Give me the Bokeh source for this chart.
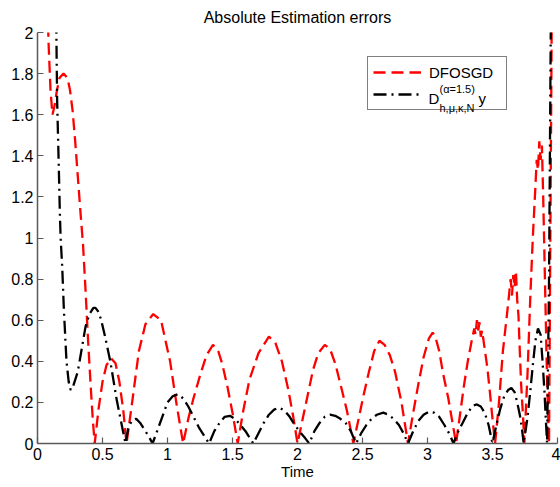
from bokeh.plotting import figure
from bokeh.models import Legend, LegendItem, Label, FixedTicker, Range1d
from bokeh.embed import file_html
from bokeh.resources import INLINE

# ---------------- data ----------------
t_dfosgd = [0.070, 0.085, 0.100, 0.115, 0.130, 0.150, 0.170, 0.200, 0.230, 0.250,
            0.270, 0.290, 0.310, 0.330, 0.350, 0.370, 0.390, 0.410, 0.425, 0.440,
            0.470, 0.500, 0.530, 0.565, 0.600, 0.630, 0.660, 0.685,
            0.730, 0.780, 0.830, 0.890, 0.950, 1.020, 1.070, 1.120,
            1.160, 1.200, 1.250, 1.300, 1.350, 1.390, 1.420, 1.460, 1.500, 1.540,
            1.580, 1.630, 1.700, 1.780, 1.830, 1.880, 1.930, 1.970, 2.000,
            2.040, 2.080, 2.120, 2.160, 2.210, 2.250, 2.290, 2.330, 2.380, 2.430,
            2.470, 2.510, 2.550, 2.590, 2.630, 2.670, 2.710, 2.750, 2.800, 2.850,
            2.890, 2.930, 2.970, 3.010, 3.040, 3.060, 3.090, 3.120, 3.160, 3.190, 3.220,
            3.250, 3.280, 3.310, 3.340, 3.360, 3.370, 3.380, 3.390, 3.400, 3.410, 3.420,
            3.440, 3.460, 3.480, 3.500, 3.520,
            3.550, 3.580, 3.610, 3.630, 3.640, 3.650, 3.660, 3.670, 3.680, 3.690, 3.700,
            3.710, 3.720, 3.735, 3.745,
            3.770, 3.790, 3.810, 3.830, 3.840, 3.850, 3.860, 3.870, 3.880, 3.890, 3.900,
            3.910, 3.920, 3.935,
            3.945, 3.955, 3.970]
e_dfosgd = [2.30, 1.95, 1.72, 1.60, 1.64, 1.72, 1.78, 1.80, 1.78, 1.72,
            1.62, 1.47, 1.30, 1.13, 0.97, 0.74, 0.49, 0.27, 0.12, 0.00,
            0.17, 0.30, 0.38, 0.415, 0.39, 0.30, 0.16, 0.00,
            0.21, 0.45, 0.58, 0.63, 0.60, 0.40, 0.19, 0.00,
            0.12, 0.22, 0.33, 0.43, 0.48, 0.45, 0.39, 0.28, 0.15, 0.00,
            0.15, 0.31, 0.44, 0.52, 0.49, 0.40, 0.26, 0.12, 0.00,
            0.12, 0.24, 0.36, 0.44, 0.48, 0.46, 0.39, 0.29, 0.16, 0.00,
            0.12, 0.24, 0.35, 0.45, 0.50, 0.48, 0.43, 0.35, 0.20, 0.00,
            0.15, 0.29, 0.42, 0.51, 0.54, 0.52, 0.45, 0.34, 0.22, 0.11, 0.00,
            0.14, 0.28, 0.40, 0.50, 0.56, 0.53, 0.60, 0.55, 0.59, 0.52, 0.55,
            0.46, 0.37, 0.25, 0.12, 0.00,
            0.20, 0.45, 0.62, 0.74, 0.80, 0.72, 0.82, 0.76, 0.84, 0.70, 0.62,
            0.45, 0.29, 0.13, 0.00,
            0.35, 0.70, 1.00, 1.25, 1.38, 1.33, 1.47, 1.38, 1.45, 1.20, 0.90,
            0.60, 0.30, 0.00,
            1.00, 2.00, 3.00]

t_deriv = [0.140, 0.145, 0.151, 0.164, 0.172, 0.178, 0.190, 0.203, 0.223, 0.240,
           0.255, 0.270, 0.280, 0.310, 0.340, 0.370, 0.400, 0.430, 0.446, 0.470,
           0.490, 0.520, 0.560, 0.610, 0.645, 0.677,
           0.700, 0.730, 0.760, 0.790, 0.820, 0.855, 0.885,
           0.920, 0.960, 1.000, 1.040, 1.080, 1.120, 1.160, 1.200, 1.240, 1.280, 1.320,
           1.360, 1.400, 1.440, 1.480, 1.520, 1.560, 1.600, 1.630, 1.660,
           1.700, 1.740, 1.780, 1.820, 1.860, 1.900, 1.940, 1.980, 2.020, 2.060, 2.090,
           2.130, 2.170, 2.210, 2.250, 2.290, 2.330, 2.370, 2.410, 2.450,
           2.490, 2.530, 2.570, 2.610, 2.660, 2.700, 2.740, 2.780, 2.820, 2.850,
           2.890, 2.930, 2.970, 3.010, 3.050, 3.090, 3.130, 3.170, 3.200,
           3.230, 3.270, 3.310, 3.350, 3.380, 3.410, 3.440, 3.470, 3.500,
           3.530, 3.560, 3.590, 3.620, 3.645, 3.670, 3.690, 3.710, 3.725, 3.740,
           3.770, 3.790, 3.810, 3.830, 3.850, 3.870, 3.885, 3.900, 3.910, 3.920,
           3.935, 3.948, 3.960]
e_deriv = [2.30, 2.00, 1.67, 1.34, 1.12, 1.00, 0.86, 0.65, 0.40, 0.30,
           0.26, 0.27, 0.29, 0.35, 0.46, 0.57, 0.63, 0.66, 0.66, 0.64,
           0.60, 0.52, 0.40, 0.21, 0.10, 0.00,
           0.08, 0.115, 0.12, 0.10, 0.07, 0.035, 0.00,
           0.06, 0.13, 0.20, 0.23, 0.24, 0.22, 0.18, 0.13, 0.08, 0.04, 0.00,
           0.06, 0.10, 0.13, 0.135, 0.12, 0.09, 0.06, 0.03, 0.00,
           0.05, 0.10, 0.14, 0.165, 0.175, 0.16, 0.13, 0.09, 0.055, 0.025, 0.00,
           0.06, 0.10, 0.13, 0.14, 0.135, 0.12, 0.10, 0.06, 0.00,
           0.05, 0.09, 0.12, 0.14, 0.15, 0.14, 0.12, 0.09, 0.045, 0.00,
           0.06, 0.11, 0.14, 0.155, 0.15, 0.13, 0.09, 0.045, 0.00,
           0.05, 0.10, 0.15, 0.185, 0.19, 0.18, 0.15, 0.09, 0.00,
           0.09, 0.17, 0.23, 0.26, 0.27, 0.25, 0.20, 0.14, 0.08, 0.00,
           0.13, 0.25, 0.38, 0.50, 0.56, 0.53, 0.40, 0.25, 0.12, 0.00,
           0.80, 2.00, 3.00]

x_ticks = [0, 0.5, 1, 1.5, 2, 2.5, 3, 3.5, 4]
x_tick_labels = ["0", "0.5", "1", "1.5", "2", "2.5", "3", "3.5", "4"]
y_ticks = [0, 0.2, 0.4, 0.6, 0.8, 1, 1.2, 1.4, 1.6, 1.8, 2]
y_tick_labels = ["0", "0.2", "0.4", "0.6", "0.8", "1", "1.2", "1.4", "1.6", "1.8", "2"]

title_text = "Absolute Estimation errors"
x_label = "Time"
series1_name = "DFOSGD"
series2_main = "D"
series2_sup = "(\u03b1=1.5)"
series2_sub = "h,\u03bc,\u03ba,N"
series2_tail = "y"

FONT = "Liberation Sans"

# ---------------- figure ----------------
p = figure(width=560, height=487,
           x_range=Range1d(0, 4), y_range=Range1d(0, 2),
           output_backend="svg", toolbar_location=None,
           min_border_left=37, min_border_right=3,
           min_border_top=32, min_border_bottom=44,
           title=title_text)
p.background_fill_color = "white"
p.border_fill_color = "white"
p.outline_line_color = None
p.grid.visible = False

p.title.align = "center"
p.title.text_font = FONT
p.title.text_font_size = "16px"
p.title.text_font_style = "normal"
p.title.text_color = "#000000"
p.title.standoff = 13

p.xaxis.ticker = FixedTicker(ticks=x_ticks)
p.xaxis.major_label_overrides = dict(zip(x_ticks, x_tick_labels))
p.yaxis.ticker = FixedTicker(ticks=y_ticks)
p.yaxis.major_label_overrides = dict(zip(y_ticks, y_tick_labels))
p.xaxis.axis_label = x_label

for ax in p.axis:
    ax.axis_line_color = "#5a5a5a"
    ax.axis_line_width = 1.5
    ax.major_tick_line_color = "#5a5a5a"
    ax.major_tick_line_width = 1.2
    ax.major_tick_in = 6
    ax.major_tick_out = 0
    ax.minor_tick_in = 0
    ax.minor_tick_out = 0
    ax.major_label_text_font = FONT
    ax.major_label_text_font_size = "16px"
    ax.major_label_text_color = "#000000"
    ax.major_label_standoff = 4
    ax.axis_label_text_font = FONT
    ax.axis_label_text_font_size = "15px"
    ax.axis_label_text_font_style = "normal"
    ax.axis_label_text_color = "#000000"
    ax.axis_label_standoff = 0

r1 = p.line(t_dfosgd, e_dfosgd, line_color="#ff0000", line_width=2.3, line_dash="12 6")
r2 = p.line(t_deriv, e_deriv, line_color="#000000", line_width=2.3, line_dash="13 5 2 5")

legend = Legend(items=[LegendItem(label=series1_name, renderers=[r1]),
                       LegendItem(label=" ", renderers=[r2])],
                location=(330, 333), margin=0, padding=5, spacing=2,
                glyph_width=48, glyph_height=20, label_height=20,
                label_width=72, label_standoff=8,
                label_text_font=FONT, label_text_font_size="15px",
                label_text_color="#000000",
                border_line_color="#000000", border_line_width=1,
                background_fill_color="white", background_fill_alpha=0.0)
p.add_layout(legend)

# composite math label for the second legend entry
lab_main = Label(x=391, y=345, x_units="screen", y_units="screen", text=series2_main,
                 text_font=FONT, text_font_size="15px", text_color="#000000",
                 text_baseline="alphabetic", level="overlay")
lab_sup = Label(x=402, y=355, x_units="screen", y_units="screen", text=series2_sup,
                text_font=FONT, text_font_size="11px", text_color="#000000",
                text_baseline="alphabetic", level="overlay")
lab_sub = Label(x=402, y=336, x_units="screen", y_units="screen", text=series2_sub,
                text_font=FONT, text_font_size="11px", text_color="#000000",
                text_baseline="alphabetic", level="overlay")
lab_tail = Label(x=441, y=345, x_units="screen", y_units="screen", text=series2_tail,
                 text_font=FONT, text_font_size="15px", text_color="#000000",
                 text_baseline="alphabetic", level="overlay")
for lab in (lab_main, lab_sup, lab_sub, lab_tail):
    p.add_layout(lab)

open("out.html", "w").write(file_html(p, INLINE))
